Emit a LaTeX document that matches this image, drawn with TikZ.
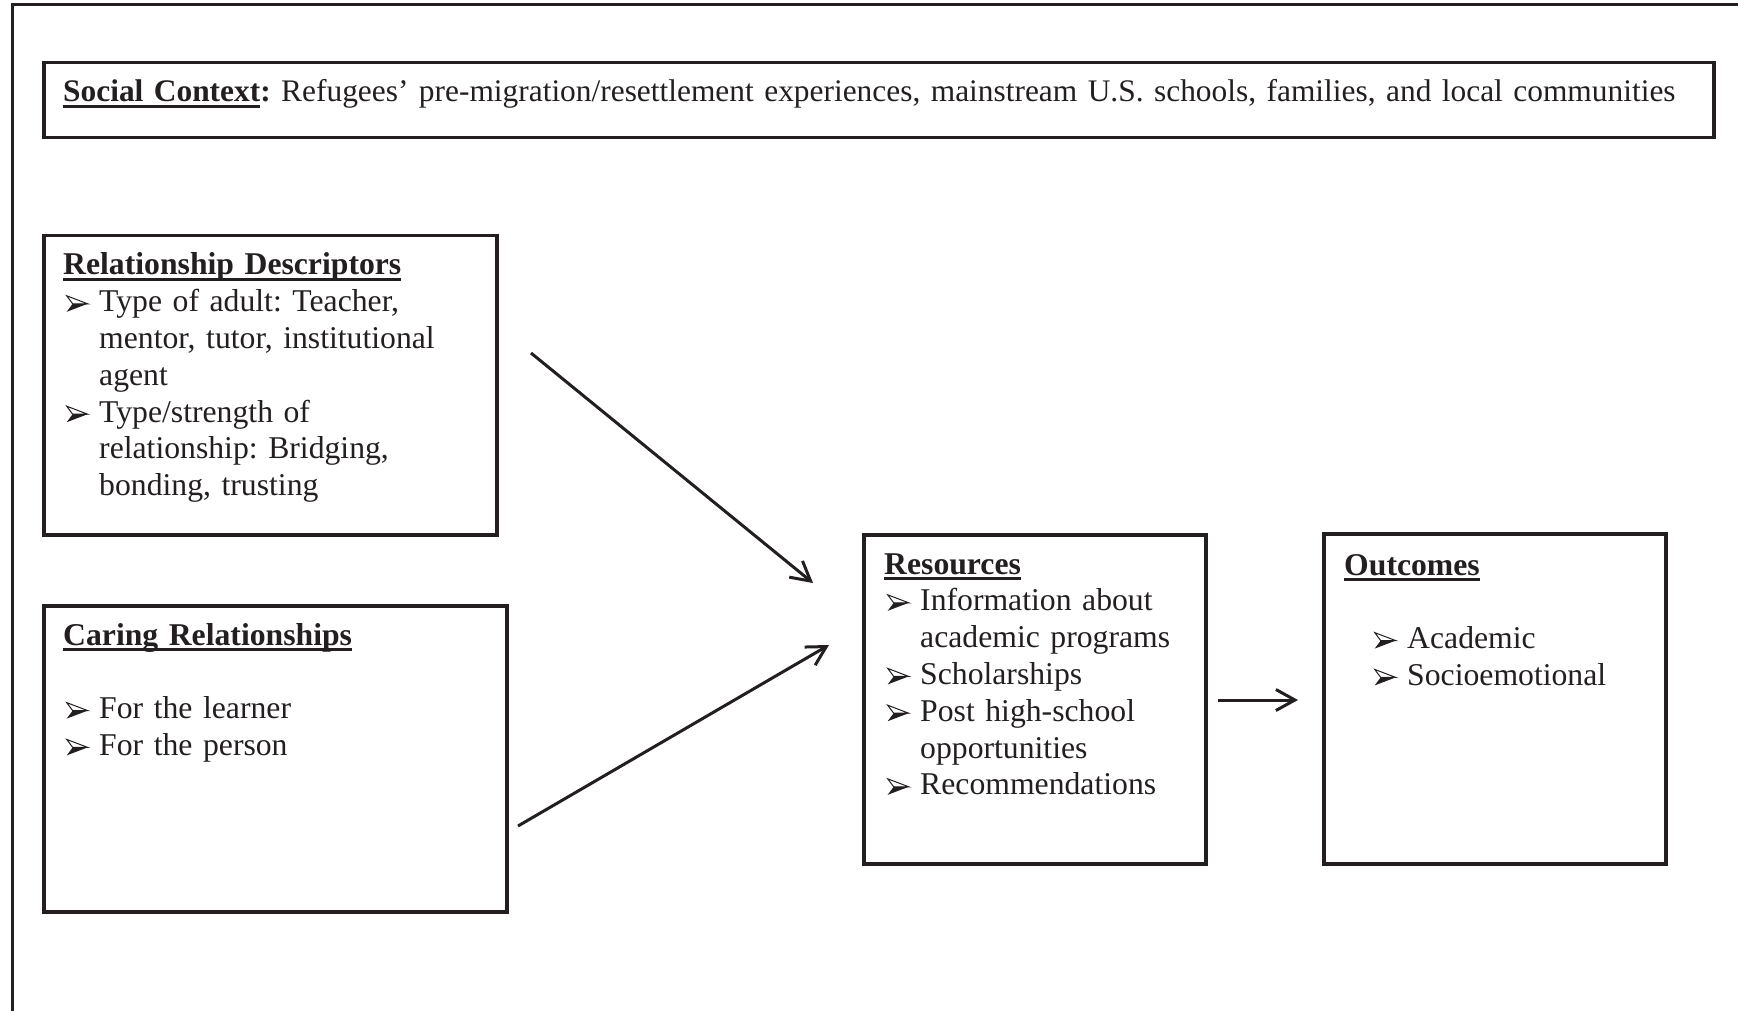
\documentclass[tikz,border=0pt]{standalone}
\usepackage{fontspec}
\setmainfont{Liberation Serif}
\usetikzlibrary{arrows.meta, positioning}
\definecolor{ink}{RGB}{35,31,32}

% underlined bold heading, rule close under the baseline
\newcommand{\uhead}[1]{\setbox0=\hbox{\bfseries #1}\rlap{\rule[-6pt]{\wd0}{3pt}}\box0}
% 3-D arrowhead bullet
\newcommand{\arrowmark}{\tikz[x=1pt, y=1pt, baseline=0pt, line join=miter]{%
  \filldraw[draw=ink, fill=white, line width=1pt] (0,16) -- (21,8) -- (6,8) -- cycle;
  \fill[ink] (6,8) -- (21,8) -- (0,0) -- cycle;}}
% list entry with hanging indent
\newlength{\bulletgap}\setlength{\bulletgap}{36pt}
\newcommand{\pointer}[1]{\par\hangindent=\bulletgap\hangafter=1\noindent
  \makebox[\bulletgap][l]{\hspace{3pt}\arrowmark}#1}

\begin{document}
\begin{tikzpicture}[x=1pt, y=-1pt,
  box/.style={draw=ink, line width=3.5pt, anchor=north west, inner sep=0pt},
  txt/.style={anchor=base west, inner sep=0pt, text width=#1, align=left,
              font=\fontsize{31.7}{36.8}\selectfont\frenchspacing, text=ink},
  arr/.style={draw=ink, line width=3pt, -{Straight Barb[length=19pt, width=21pt]}}
]
\useasboundingbox (0,0) rectangle (1738,1011);
% outer frame, cut by the page on the right and at the bottom
\draw[draw=ink, line width=3pt] (1745,5) -- (12,5) -- (12,1020);

\node[box, minimum width=1670pt, minimum height=75pt] (ctx) at (42,61) {};
\node[txt=1640pt, font=\fontsize{31.4}{36.8}\selectfont\frenchspacing] (ctxtext) at (63,102) {\uhead{Social Context}\textbf{:} Refugees’ pre-migration/resettlement experiences, mainstream U.S. schools, families, and local communities\par};

\node[box, minimum width=453pt, minimum height=299pt] (desc) at (42,234) {};
\node[txt=420pt] (desctext) at (63,275) {\uhead{Relationship Descriptors}
  \pointer{Type of adult: Teacher,\newline mentor, tutor, institutional\newline agent}
  \pointer{Type/strength of\newline relationship: Bridging,\newline bonding, trusting}\par};

\node[box, minimum width=463pt, minimum height=306pt] (care) at (42,604) {};
\node[txt=420pt] (caretext) at (63,645) {\uhead{Caring Relationships}\par\vspace{36.8pt}
  \pointer{For the learner}
  \pointer{For the person}\par};

\node[box, minimum width=342pt, minimum height=329pt] (res) at (862,533) {};
\node[txt=315pt] (restext) at (884,574) {\uhead{Resources}
  \pointer{Information about\newline academic programs}
  \pointer{Scholarships}
  \pointer{Post high-school\newline opportunities}
  \pointer{Recommendations}\par};

\node[box, minimum width=342pt, minimum height=330pt] (out) at (1322,532) {};
\node[txt=315pt] (outtext) at (1344,575) {\uhead{Outcomes}\par\vspace{36.8pt}\leftskip=27pt
  \pointer{Academic}
  \pointer{Socioemotional}\par};

% free ends of the connectors
\coordinate (descarr) at (531,353);
\coordinate (resin1)  at (813,583);
\coordinate (carearr) at (518,826);
\coordinate (resin2)  at (829,645);
\coordinate (resarr)  at (1218,700);
\coordinate (outin)   at (1298,700);

\draw[arr] (descarr) -- (resin1);
\draw[arr] (carearr) -- (resin2);
\draw[arr] (resarr)  -- (outin);
\end{tikzpicture}
\end{document}
